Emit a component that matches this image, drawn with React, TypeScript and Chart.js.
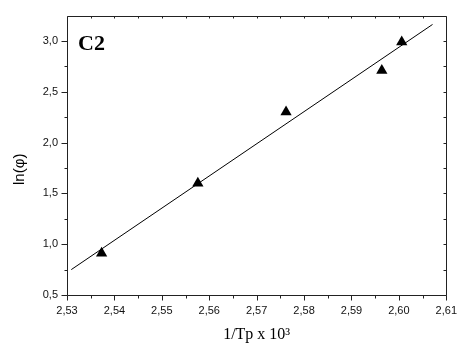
import React, { useEffect, useRef } from "react";
import { Chart, registerables } from "chart.js";

Chart.register(...registerables);

// Measured data (1/Tp x 10^3, ln(phi))
const xValues = [2.5373, 2.5576, 2.5762, 2.5964, 2.6006];
const yValues = [0.91, 1.6, 2.3, 2.71, 2.99];
// Linear fit line end points
const fitX = [2.5309, 2.6071];
const fitY = [0.75, 3.163];

const xMin = 2.53;
const xMax = 2.61;
const xStep = 0.01;
const yMin = 0.5;
const yMax = 3.25;
const yStep = 0.5;

const xTitle = "1/Tp x 10³";
const yTitle = "ln(φ)";
const panelLabel = "C2";

const framePlugin = {
  id: "frame",
  afterDraw(chart: any) {
    const ctx = chart.ctx;
    const { left, right, top, bottom } = chart.chartArea;
    const xs = chart.scales.x;
    const ys = chart.scales.y;
    ctx.save();
    ctx.strokeStyle = "#222";
    ctx.lineWidth = 1;
    const L = Math.round(left) + 0.5;
    const R = Math.round(right) + 0.5;
    const T = Math.round(top) + 0.5;
    const B = Math.round(bottom) + 0.5;
    ctx.beginPath();
    ctx.rect(L, T, R - L, B - T);
    ctx.stroke();
    ctx.beginPath();
    // x ticks
    const xt = xs.ticks.map((t: any) => t.value);
    for (let i = 0; i < xt.length; i++) {
      const px = Math.round(xs.getPixelForValue(xt[i])) + 0.5;
      ctx.moveTo(px, B);
      ctx.lineTo(px, B + 5);
      ctx.moveTo(px, T);
      ctx.lineTo(px, T + 2);
      if (i < xt.length - 1) {
        const m = Math.round(xs.getPixelForValue((xt[i] + xt[i + 1]) / 2)) + 0.5;
        ctx.moveTo(m, B);
        ctx.lineTo(m, B + 3);
        ctx.moveTo(m, T);
        ctx.lineTo(m, T + 2);
      }
    }
    // y ticks
    const yt = ys.ticks.map((t: any) => t.value);
    for (let i = 0; i < yt.length; i++) {
      const py = Math.round(ys.getPixelForValue(yt[i])) + 0.5;
      ctx.moveTo(L, py);
      ctx.lineTo(L - 6, py);
      ctx.moveTo(R, py);
      ctx.lineTo(R - 3, py);
      const next = i < yt.length - 1 ? yt[i + 1] : yt[i] + yStep;
      const mv = (yt[i] + next) / 2;
      if (mv < ys.max) {
        const m = Math.round(ys.getPixelForValue(mv)) + 0.5;
        ctx.moveTo(L, m);
        ctx.lineTo(L - 3, m);
        ctx.moveTo(R, m);
        ctx.lineTo(R - 3, m);
      }
    }
    ctx.stroke();
    // panel label
    ctx.fillStyle = "#000";
    ctx.font = "bold 22px 'Liberation Serif', serif";
    ctx.textBaseline = "alphabetic";
    ctx.textAlign = "left";
    ctx.fillText(panelLabel, left + 11, top + 34);
    // y axis title (drawn slightly below centre, as in the reference)
    ctx.save();
    ctx.translate(20, (top + bottom) / 2 + 14);
    ctx.rotate(-Math.PI / 2);
    ctx.font = "15px 'Liberation Sans', Arial, sans-serif";
    ctx.textAlign = "center";
    ctx.textBaseline = "middle";
    ctx.fillText(yTitle, 0, 0);
    ctx.restore();
    ctx.restore();
  },
};

export default function App() {
  const ref = useRef<HTMLCanvasElement | null>(null);

  useEffect(() => {
    if (!ref.current) return;
    const chart = new Chart(ref.current, {
      type: "scatter",
      data: {
        datasets: [
          {
            type: "line",
            data: fitX.map((x, i) => ({ x, y: fitY[i] })),
            borderColor: "#000",
            borderWidth: 1,
            pointRadius: 0,
            fill: false,
          } as any,
          {
            data: xValues.map((x, i) => ({ x, y: yValues[i] })),
            pointStyle: "triangle",
            pointRadius: 6.5,
            backgroundColor: "#000",
            borderColor: "#000",
            borderWidth: 0,
          },
        ],
      },
      options: {
        animation: false,
        responsive: false,
        devicePixelRatio: 1,
        layout: { padding: { top: 9, right: 12, left: 0, bottom: 0 } },
        plugins: { legend: { display: false }, tooltip: { enabled: false } },
        scales: {
          x: {
            type: "linear",
            min: xMin,
            max: xMax,
            grid: { display: false, drawTicks: false },
            border: { display: false },
            ticks: {
              stepSize: xStep,
              padding: 9,
              color: "#111",
              font: { family: "'Liberation Sans', Arial, sans-serif", size: 11 },
              callback: (v: any) => Number(v).toFixed(2).replace(".", ","),
              maxRotation: 0,
              autoSkip: false,
            },
            title: {
              display: true,
              text: xTitle,
              color: "#000",
              font: { family: "'Liberation Serif', serif", size: 16 },
              padding: { top: 0, bottom: 3 },
            },
            afterFit: (s: any) => {
              s.height = 52;
            },
          },
          y: {
            type: "linear",
            min: yMin,
            max: yMax,
            grid: { display: false, drawTicks: false },
            border: { display: false },
            ticks: {
              stepSize: yStep,
              includeBounds: false,
              padding: 9,
              color: "#111",
              font: { family: "'Liberation Sans', Arial, sans-serif", size: 11 },
              callback: (v: any) => Number(v).toFixed(1).replace(".", ","),
            },
            title: { display: false },
            afterFit: (s: any) => {
              s.width = 67;
            },
          },
        },
      },
      plugins: [framePlugin],
    });
    return () => chart.destroy();
  }, []);

  return (
    <div style={{ position: "absolute", left: 0, top: 0, width: 466, height: 347, background: "#fff" }}>
      <canvas ref={ref} width={466} height={347} />
    </div>
  );
}
